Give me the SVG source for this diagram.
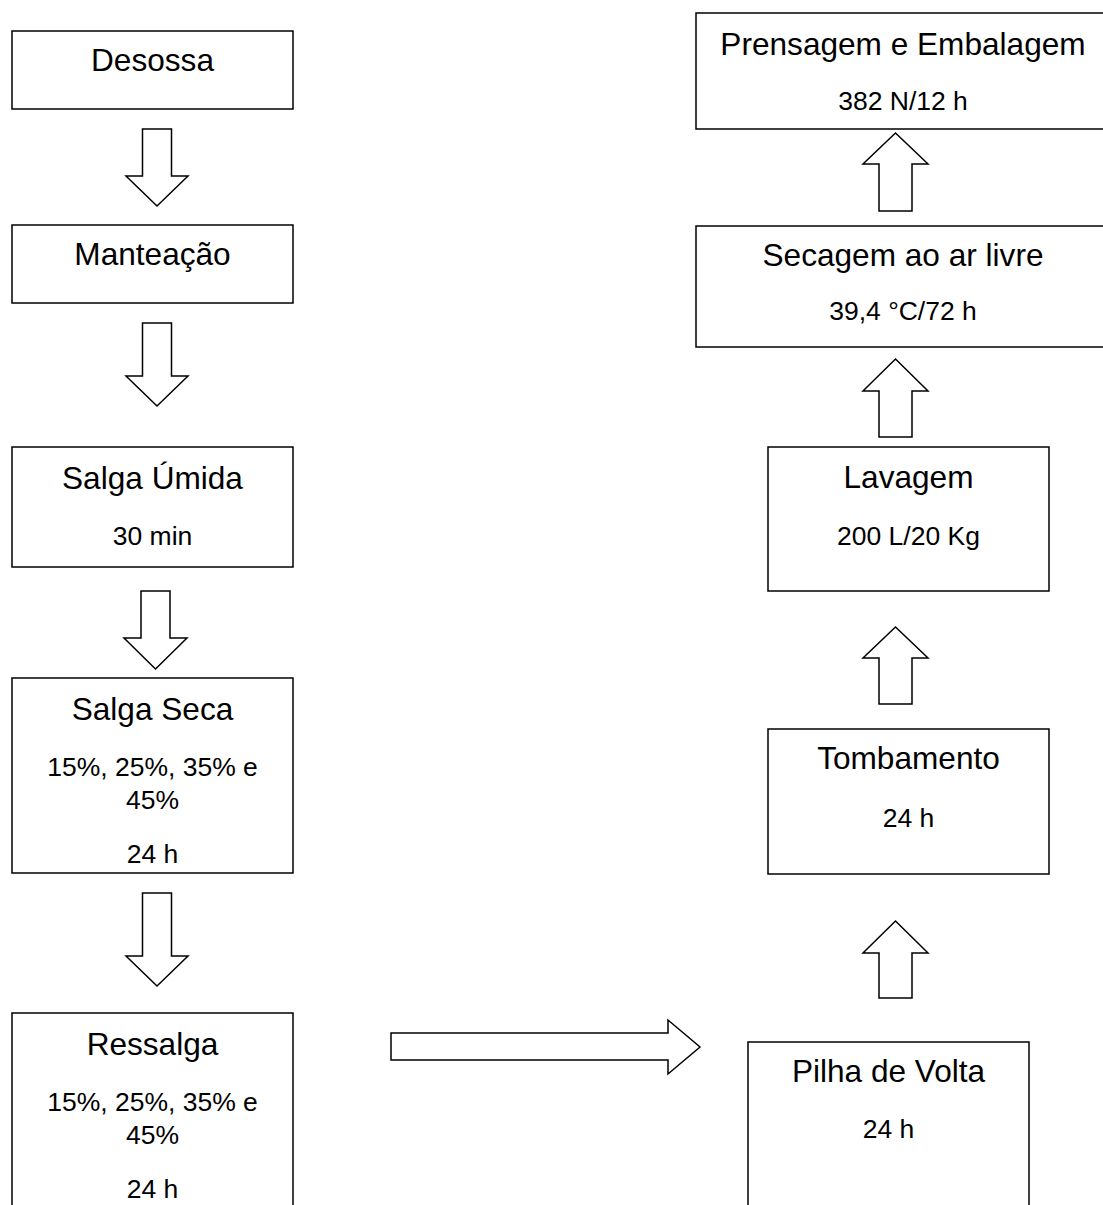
<svg xmlns="http://www.w3.org/2000/svg" width="1103" height="1205" viewBox="0 0 1103 1205">
<style>
.box{fill:#fff;stroke:#000;stroke-width:1.5}
.arr{fill:#fff;stroke:#000;stroke-width:1.5;stroke-linejoin:miter}
.t{font-family:"Liberation Sans",Arial,sans-serif;font-size:31.6px;fill:#000;text-anchor:middle}
.s{font-family:"Liberation Sans",Arial,sans-serif;font-size:26.5px;fill:#000;text-anchor:middle}
</style>
<rect width="1103" height="1205" fill="#fff"/>
<g id="connectors">
<polygon class="arr" points="142.5,129 171.5,129 171.5,176 188,176 157,206 126,176 142.5,176"/>
<polygon class="arr" points="142.5,323 171.5,323 171.5,376 188,376 157,406 126,376 142.5,376"/>
<polygon class="arr" points="141,591 170,591 170,638 187,638 155.5,669 124,638 141,638"/>
<polygon class="arr" points="142.5,893 171.5,893 171.5,956 188,956 157,986 126,956 142.5,956"/>
<polygon class="arr" points="391,1033 668,1033 668,1020 700,1047 668,1074 668,1060 391,1060"/>
<polygon class="arr" points="879,211 912,211 912,164 928,164 895.5,133 863,164 879,164"/>
<polygon class="arr" points="879,437 912,437 912,391 928,391 895.5,359 863,391 879,391"/>
<polygon class="arr" points="879,704 912,704 912,658 928,658 895.5,627 863,658 879,658"/>
<polygon class="arr" points="879,998 912,998 912,953 928,953 895.5,921 863,953 879,953"/>
</g>
<g id="desossa">
<rect class="box" x="12" y="31" width="281" height="78"/>
<text class="t" x="152.5" y="71">Desossa</text>
</g>
<g id="manteacao">
<rect class="box" x="12" y="225" width="281" height="78"/>
<text class="t" x="152.5" y="265">Manteação</text>
</g>
<g id="salga-umida">
<rect class="box" x="12" y="447" width="281" height="120"/>
<text class="t" x="152.5" y="489">Salga Úmida</text>
<text class="s" x="152.5" y="545">30 min</text>
</g>
<g id="salga-seca">
<rect class="box" x="12" y="678" width="281" height="195"/>
<text class="t" x="152.5" y="720">Salga Seca</text>
<text class="s" x="152.5" y="776">15%, 25%, 35% e</text>
<text class="s" x="152.5" y="809">45%</text>
<text class="s" x="152.5" y="863">24 h</text>
</g>
<g id="ressalga">
<rect class="box" x="12" y="1013" width="281" height="210"/>
<text class="t" x="152.5" y="1055">Ressalga</text>
<text class="s" x="152.5" y="1111">15%, 25%, 35% e</text>
<text class="s" x="152.5" y="1144">45%</text>
<text class="s" x="152.5" y="1198">24 h</text>
</g>
<g id="pilha-de-volta">
<rect class="box" x="748" y="1042" width="281" height="180"/>
<text class="t" x="888.5" y="1082">Pilha de Volta</text>
<text class="s" x="888.5" y="1138">24 h</text>
</g>
<g id="tombamento">
<rect class="box" x="768" y="729" width="281" height="145"/>
<text class="t" x="908.5" y="769">Tombamento</text>
<text class="s" x="908.5" y="827">24 h</text>
</g>
<g id="lavagem">
<rect class="box" x="768" y="447" width="281" height="144"/>
<text class="t" x="908.5" y="488">Lavagem</text>
<text class="s" x="908.5" y="545">200 L/20 Kg</text>
</g>
<g id="secagem">
<rect class="box" x="696" y="226" width="414" height="121"/>
<text class="t" x="903" y="266">Secagem ao ar livre</text>
<text class="s" x="903" y="320">39,4 °C/72 h</text>
</g>
<g id="prensagem">
<rect class="box" x="696" y="13" width="414" height="116"/>
<text class="t" x="903" y="55">Prensagem e Embalagem</text>
<text class="s" x="903" y="110">382 N/12 h</text>
</g>
</svg>
